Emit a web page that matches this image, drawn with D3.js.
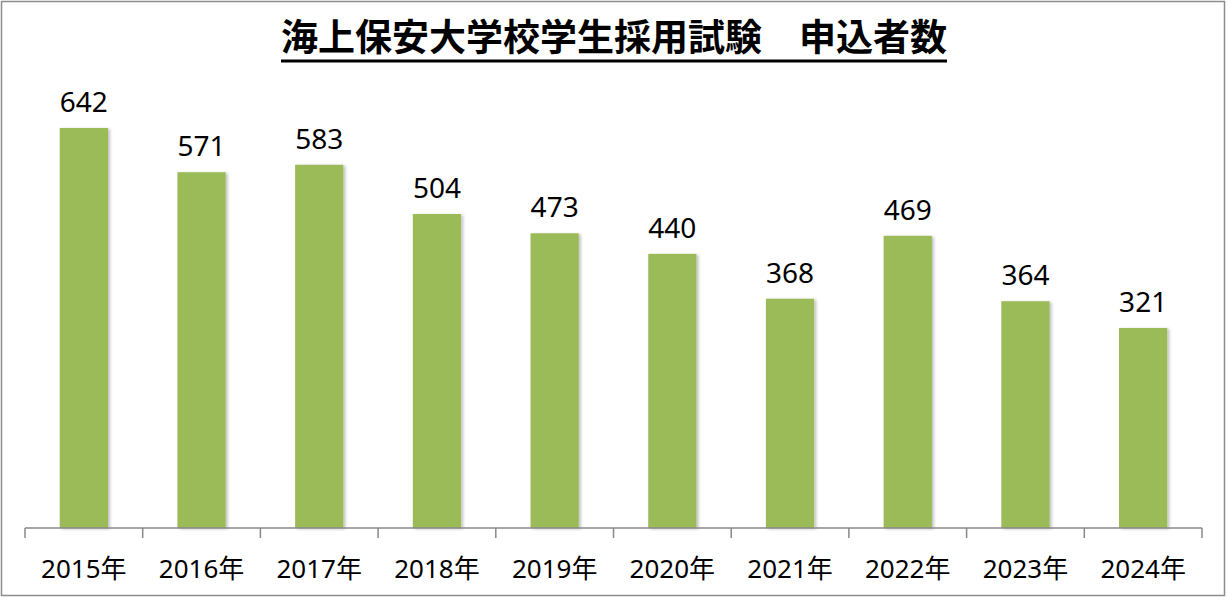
<!DOCTYPE html>
<html><head><meta charset="utf-8">
<script src="https://cdn.jsdelivr.net/npm/d3@7"></script>
<style>html,body{margin:0;padding:0;background:#fff;}</style>
</head><body>
<script>
const categories = ["2015年","2016年","2017年","2018年","2019年","2020年","2021年","2022年","2023年","2024年"];
const values = [642,571,583,504,473,440,368,469,364,321];
const titleText = "海上保安大学校学生採用試験　申込者数";

const W = 1227, H = 600;
const svg = d3.select("body").append("svg").attr("width", W).attr("height", H);

const defs = svg.append("defs");
const f = defs.append("filter").attr("id","sh").attr("x","-20%").attr("y","-20%").attr("width","150%").attr("height","150%");
f.append("feDropShadow").attr("dx",2).attr("dy",1).attr("stdDeviation",1.5).attr("flood-color","#000").attr("flood-opacity",0.25);

svg.append("rect").attr("x",1.5).attr("y",1.5).attr("width",1223).attr("height",594)
  .attr("fill","#fff").attr("stroke","#8c8c8c").attr("stroke-width",1.5);

const x = d3.scaleBand().domain(categories).range([25, 1202]).padding(0);
const y = d3.scaleLinear().domain([0, 700]).range([528, 528 - 700*400/642]);
const barW = x.bandwidth() * 0.41;

svg.append("g").selectAll("rect").data(values).join("rect")
  .attr("x", (d,i) => x(categories[i]) + x.bandwidth()/2 - barW/2)
  .attr("y", d => y(d))
  .attr("width", barW)
  .attr("height", d => y(0) - y(d))
  .attr("fill", "#9bbb59")
  .attr("filter", "url(#sh)");

svg.append("g").selectAll("text").data(values).join("text")
  .attr("x", (d,i) => x(categories[i]) + x.bandwidth()/2)
  .attr("y", d => y(d) - 16)
  .attr("text-anchor","middle")
  .attr("font-family","'Noto Sans', sans-serif")
  .attr("font-size", 28)
  .attr("fill","#000")
  .text(d => d);

// axis
const axisG = svg.append("g").attr("transform","translate(0,528)");
const ax = d3.axisBottom(x).tickSize(0).tickFormat(d => d);
axisG.call(ax);
axisG.select(".domain").attr("stroke","#888").attr("stroke-width",1.5).attr("d","M25,0H1202");
axisG.selectAll(".tick text").attr("font-family","'Noto Sans','Noto Sans CJK JP', sans-serif")
  .attr("font-size",26).attr("fill","#000").attr("dy",null).attr("y",50);
// category boundary ticks
const bounds = categories.map(c => x(c)).concat([x(categories[categories.length-1]) + x.bandwidth()]);
axisG.selectAll("line.bt").data(bounds).join("line").attr("class","bt")
  .attr("x1", d => d).attr("x2", d => d).attr("y1",0).attr("y2",10)
  .attr("stroke","#888").attr("stroke-width",1.5);

// title
const t = svg.append("text").attr("x", 614).attr("y", 51).attr("text-anchor","middle")
  .attr("font-family","'Noto Sans CJK JP', sans-serif").attr("font-weight",700)
  .attr("font-size",37).attr("fill","#000").text(titleText);
const bb = t.node().getBBox();
svg.append("line").attr("x1", bb.x).attr("x2", bb.x + bb.width).attr("y1",61).attr("y2",61)
  .attr("stroke","#000").attr("stroke-width",3);
</script>
</body></html>
